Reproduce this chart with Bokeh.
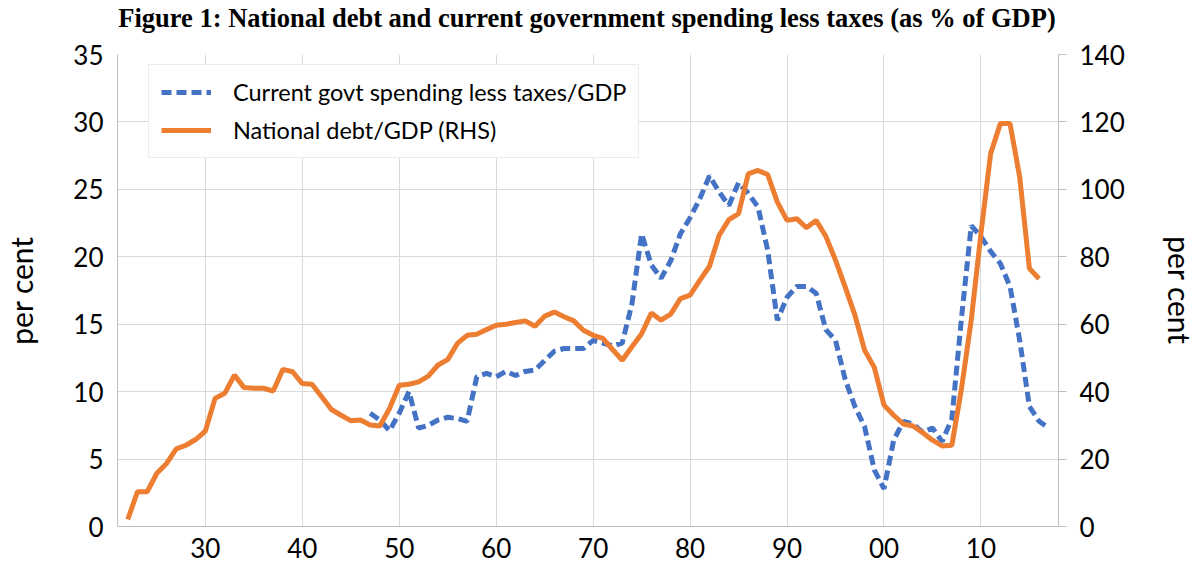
from bokeh.plotting import figure
from bokeh.models import Range1d, LinearAxis, FixedTicker, Legend, LegendItem, Div
from bokeh.layouts import column
from bokeh.embed import file_html
from bokeh.resources import INLINE

TITLE = "Figure 1: National debt and current government spending less taxes (as % of GDP)"

debt_years = list(range(1922, 2017))
debt_pct = [
    2.1, 10.3, 10.3, 15.8, 18.7, 23.0, 24.1, 25.8, 28.3,            # 1922-1930
    38.0, 39.5, 44.9, 41.2, 41.0, 41.0, 40.2, 46.6, 45.9, 42.4,      # 1931-1940
    42.2, 38.5, 34.7, 33.0, 31.4, 31.6, 30.1, 29.8, 35.0, 41.9,      # 1941-1950
    42.2, 42.9, 44.6, 47.9, 49.5, 54.3, 56.7, 57.0, 58.4, 59.7,      # 1951-1960
    60.0, 60.5, 61.0, 59.4, 62.4, 63.6, 62.2, 61.0, 58.2, 56.7,      # 1961-1970
    55.8, 52.5, 49.3, 53.3, 57.2, 63.3, 61.2, 63.0, 67.6, 68.6,      # 1971-1980
    73.0, 77.2, 86.4, 91.0, 92.8, 104.6, 105.6, 104.4, 96.2, 90.8,   # 1981-1990
    91.3, 88.6, 90.8, 86.1, 79.0, 71.0, 62.7, 52.3, 47.2, 36.0,      # 1991-2000
    33.0, 30.4, 29.8, 27.8, 25.6, 23.9, 24.1, 41.0, 61.2, 86.9,      # 2001-2010
    110.6, 119.5, 119.5, 103.6, 76.5, 73.5,                          # 2011-2016
]

gap_years = list(range(1947, 2018))
gap_pct = [
    8.4, 7.9, 7.1, 8.4,                                              # 1947-1950
    10.0, 7.3, 7.5, 7.9, 8.1, 8.0, 7.8, 11.1, 11.35, 11.1,           # 1951-1960
    11.5, 11.2, 11.5, 11.6, 12.3, 13.0, 13.2, 13.2, 13.2, 13.8,      # 1961-1970
    13.6, 13.4, 13.6, 16.5, 21.7, 19.4, 18.4, 19.7, 21.7, 22.9,      # 1971-1980
    24.3, 26.0, 24.8, 23.8, 25.5, 24.7, 23.7, 20.5, 15.3, 17.0,      # 1981-1990
    17.8, 17.8, 17.3, 14.6, 13.8, 10.9, 8.9, 7.4, 4.2, 2.8,          # 1991-2000
    6.4, 7.8, 7.6, 7.0, 7.3, 6.3, 8.0, 15.5, 22.3, 21.5,             # 2001-2010
    20.4, 19.5, 17.8, 13.8, 8.9, 7.8, 7.3,                           # 2011-2017
]

x_ticks = [1930, 1940, 1950, 1960, 1970, 1980, 1990, 2000, 2010]
x_tick_labels = ["30", "40", "50", "60", "70", "80", "90", "00", "10"]
left_ticks = [0, 5, 10, 15, 20, 25, 30, 35]
right_ticks = [0, 20, 40, 60, 80, 100, 120, 140]

FONT = "Lato"
GRID = "#d9d9d9"
AXIS = "#bfbfbf"

title_div = Div(
    text=('<div style="font-family:\'Liberation Serif\';font-weight:bold;'
          'font-size:26.5px;line-height:1;text-align:center;width:946px;'
          'margin-left:114px;padding-top:5px;white-space:nowrap;color:black;">'
          + TITLE + '</div>'),
    width=1200, height=34, margin=0)

p = figure(width=1200, height=536, output_backend="svg", toolbar_location=None,
           x_range=Range1d(1920.94, 2018.0), y_range=Range1d(0, 35),
           min_border_left=117, min_border_right=137, min_border_top=20,
           min_border_bottom=44, margin=0)
p.extra_y_ranges = {"right": Range1d(0, 140)}
p.background_fill_color = "white"
p.border_fill_color = "white"
p.outline_line_color = None

# grids
p.xgrid.ticker = FixedTicker(ticks=x_ticks)
p.ygrid.ticker = FixedTicker(ticks=left_ticks)
p.xgrid.grid_line_color = GRID
p.ygrid.grid_line_color = GRID

# bottom axis
xa = p.xaxis[0]
xa.ticker = FixedTicker(ticks=x_ticks)
xa.major_label_overrides = {t: l for t, l in zip(x_ticks, x_tick_labels)}
xa.major_tick_out = 0
xa.major_tick_in = 0
xa.minor_tick_out = 0
xa.minor_tick_in = 0
xa.axis_line_color = AXIS
xa.major_label_standoff = 11
xa.major_label_text_font = FONT
xa.major_label_text_font_size = "26px"
xa.major_label_text_color = "black"

# left axis
ya = p.yaxis[0]
ya.ticker = FixedTicker(ticks=left_ticks)
ya.major_tick_out = 0
ya.major_tick_in = 0
ya.minor_tick_out = 0
ya.minor_tick_in = 0
ya.axis_line_color = AXIS
ya.major_label_standoff = 14
ya.major_label_text_font = FONT
ya.major_label_text_font_size = "26px"
ya.major_label_text_color = "black"
ya.axis_label = "per cent"
ya.axis_label_text_font = FONT
ya.axis_label_text_font_size = "30px"
ya.axis_label_text_font_style = "normal"
ya.axis_label_text_color = "black"
ya.axis_label_standoff = 31

# right axis
ra = LinearAxis(y_range_name="right", ticker=FixedTicker(ticks=right_ticks))
ra.major_tick_out = 8
ra.major_tick_in = 0
ra.minor_tick_out = 0
ra.minor_tick_in = 0
ra.major_tick_line_color = AXIS
ra.axis_line_color = AXIS
ra.major_label_standoff = 13
ra.major_label_text_font = FONT
ra.major_label_text_font_size = "26px"
ra.major_label_text_color = "black"
ra.axis_label = "per cent"
ra.axis_label_text_font = FONT
ra.axis_label_text_font_size = "30px"
ra.axis_label_text_font_style = "normal"
ra.axis_label_text_color = "black"
ra.axis_label_standoff = 34
p.add_layout(ra, "right")

rb = p.line(gap_years, gap_pct, line_color="#4472C4", line_width=5, line_dash="10 5")
ro = p.line(debt_years, debt_pct, y_range_name="right", line_color="#ED7D31", line_width=5)

legend = Legend(items=[
    LegendItem(label="Current govt spending less taxes/GDP", renderers=[rb]),
    LegendItem(label="National debt/GDP (RHS)", renderers=[ro]),
], location=(31, 368))
legend.label_text_font = FONT
legend.label_text_font_size = "23.5px"
legend.label_text_color = "black"
legend.border_line_color = GRID
legend.background_fill_color = "white"
legend.background_fill_alpha = 1.0
legend.padding = 12
legend.spacing = 8
legend.margin = 0
legend.glyph_width = 50
legend.glyph_height = 30
legend.label_height = 28
legend.label_standoff = 22
p.add_layout(legend)

layout = column(title_div, p, spacing=0)
open("out.html", "w").write(file_html(layout, INLINE))
